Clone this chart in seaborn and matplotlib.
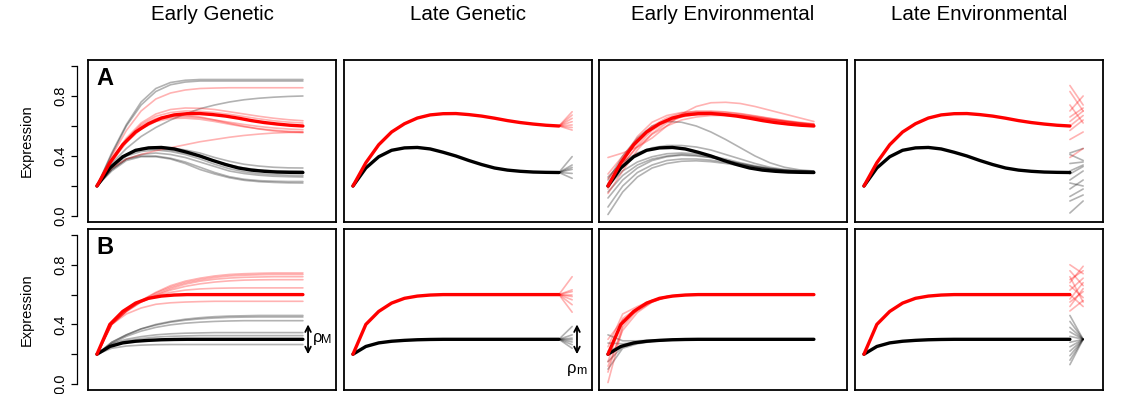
import matplotlib
matplotlib.use('Agg')
import matplotlib.pyplot as plt
import seaborn as sns

sns.set_style('white')
plt.rcParams['font.family'] = ['Liberation Sans', 'DejaVu Sans']
plt.rcParams['text.color'] = 'black'
plt.rcParams['axes.labelcolor'] = 'black'
plt.rcParams['ytick.color'] = 'black'

# time points of the simulated trajectories
t = list(range(15))
# the main model trajectories are stored on their own (coarse) output grid
t_main = [0, 0.875, 1.75, 2.625, 3.5, 4.375, 5.25, 6.125, 7, 7.875, 8.75, 9.625, 10.5, 11.375, 12.25, 13.125, 14]
t_late = [14, 14.9]   # short perturbation tips drawn after the last time point

col_titles = ['Early Genetic', 'Late Genetic', 'Early Environmental', 'Late Environmental']
row_labels = ['A', 'B']

# main trajectories (row A: overshoot, row B: saturating)
a_red = [0.20, 0.355, 0.475, 0.56, 0.615, 0.653, 0.674, 0.682, 0.683, 0.676, 0.666, 0.652, 0.636, 0.623, 0.613, 0.605, 0.60]
a_black = [0.20, 0.32, 0.395, 0.438, 0.454, 0.457, 0.447, 0.425, 0.40, 0.37, 0.343, 0.32, 0.306, 0.298, 0.293, 0.291, 0.29]
b_red = [0.20, 0.40, 0.487, 0.543, 0.575, 0.59, 0.597, 0.60, 0.60, 0.60, 0.60, 0.60, 0.60, 0.60, 0.60, 0.60, 0.60]
b_black = [0.20, 0.252, 0.276, 0.287, 0.293, 0.297, 0.299, 0.30, 0.30, 0.30, 0.30, 0.30, 0.30, 0.30, 0.30, 0.30, 0.30]

# Early genetic, row A
a_eg_red = [
    [0.2, 0.40, 0.57, 0.70, 0.78, 0.82, 0.84, 0.85, 0.853, 0.855, 0.855, 0.855, 0.855, 0.855, 0.855],
    [0.2, 0.38, 0.52, 0.62, 0.68, 0.71, 0.72, 0.718, 0.71, 0.695, 0.68, 0.665, 0.652, 0.642, 0.635],
    [0.2, 0.37, 0.51, 0.61, 0.665, 0.69, 0.70, 0.698, 0.69, 0.678, 0.663, 0.648, 0.635, 0.626, 0.62],
    [0.2, 0.37, 0.50, 0.59, 0.64, 0.66, 0.662, 0.655, 0.64, 0.625, 0.61, 0.597, 0.587, 0.58, 0.575],
    [0.2, 0.36, 0.49, 0.58, 0.63, 0.65, 0.652, 0.645, 0.63, 0.612, 0.595, 0.582, 0.572, 0.565, 0.56],
    [0.2, 0.37, 0.50, 0.60, 0.65, 0.668, 0.67, 0.66, 0.64, 0.618, 0.598, 0.58, 0.567, 0.559, 0.555],
    [0.2, 0.32, 0.38, 0.41, 0.435, 0.455, 0.475, 0.495, 0.51, 0.525, 0.537, 0.546, 0.553, 0.557, 0.56],
]
a_eg_gray = [
    [0.2, 0.42, 0.61, 0.76, 0.85, 0.89, 0.905, 0.91, 0.91, 0.91, 0.91, 0.91, 0.91, 0.91, 0.91],
    [0.2, 0.41, 0.60, 0.74, 0.83, 0.875, 0.893, 0.90, 0.90, 0.90, 0.90, 0.90, 0.90, 0.90, 0.90],
    [0.2, 0.35, 0.45, 0.53, 0.59, 0.64, 0.68, 0.715, 0.74, 0.76, 0.775, 0.785, 0.792, 0.797, 0.80],
    [0.2, 0.33, 0.41, 0.45, 0.46, 0.455, 0.44, 0.42, 0.39, 0.365, 0.345, 0.333, 0.325, 0.321, 0.32],
    [0.2, 0.32, 0.40, 0.43, 0.44, 0.43, 0.41, 0.38, 0.345, 0.315, 0.295, 0.283, 0.276, 0.272, 0.27],
    [0.2, 0.31, 0.38, 0.41, 0.42, 0.41, 0.39, 0.36, 0.33, 0.30, 0.283, 0.272, 0.265, 0.262, 0.26],
    [0.2, 0.31, 0.38, 0.40, 0.40, 0.385, 0.36, 0.325, 0.29, 0.262, 0.245, 0.236, 0.232, 0.23, 0.23],
    [0.2, 0.30, 0.37, 0.395, 0.395, 0.38, 0.35, 0.31, 0.28, 0.255, 0.238, 0.229, 0.224, 0.221, 0.22],
    [0.2, 0.33, 0.41, 0.445, 0.45, 0.44, 0.42, 0.395, 0.365, 0.34, 0.32, 0.308, 0.302, 0.30, 0.30],
]

# Early genetic, row B
b_eg_red = [
    [0.2, 0.40, 0.49, 0.56, 0.615, 0.66, 0.69, 0.71, 0.725, 0.735, 0.74, 0.743, 0.745, 0.745, 0.745],
    [0.2, 0.40, 0.49, 0.56, 0.61, 0.65, 0.68, 0.70, 0.715, 0.725, 0.73, 0.733, 0.735, 0.735, 0.735],
    [0.2, 0.40, 0.49, 0.555, 0.60, 0.64, 0.67, 0.69, 0.703, 0.711, 0.716, 0.718, 0.72, 0.72, 0.72],
    [0.2, 0.40, 0.485, 0.55, 0.595, 0.63, 0.655, 0.672, 0.684, 0.692, 0.697, 0.699, 0.70, 0.70, 0.70],
    [0.2, 0.41, 0.49, 0.55, 0.59, 0.615, 0.63, 0.638, 0.642, 0.644, 0.645, 0.645, 0.645, 0.645, 0.645],
    [0.2, 0.40, 0.47, 0.51, 0.535, 0.545, 0.55, 0.553, 0.555, 0.555, 0.555, 0.555, 0.555, 0.555, 0.555],
]
b_eg_gray = [
    [0.2, 0.28, 0.33, 0.37, 0.40, 0.42, 0.435, 0.445, 0.452, 0.456, 0.458, 0.46, 0.46, 0.46, 0.46],
    [0.2, 0.28, 0.33, 0.37, 0.395, 0.415, 0.428, 0.437, 0.443, 0.447, 0.449, 0.45, 0.45, 0.45, 0.45],
    [0.2, 0.27, 0.32, 0.355, 0.38, 0.397, 0.408, 0.415, 0.42, 0.423, 0.425, 0.425, 0.425, 0.425, 0.425],
    [0.2, 0.27, 0.30, 0.318, 0.33, 0.337, 0.341, 0.343, 0.345, 0.345, 0.345, 0.345, 0.345, 0.345, 0.345],
    [0.2, 0.26, 0.29, 0.305, 0.315, 0.32, 0.323, 0.325, 0.325, 0.325, 0.325, 0.325, 0.325, 0.325, 0.325],
    [0.2, 0.24, 0.255, 0.261, 0.264, 0.265, 0.265, 0.265, 0.265, 0.265, 0.265, 0.265, 0.265, 0.265, 0.265],
]

# Late genetic: end values of the tips leaving the last point
a_lg_red = [0.695, 0.673, 0.651, 0.629, 0.607, 0.59, 0.573]
a_lg_gray = [0.396, 0.34, 0.324, 0.311, 0.284, 0.251]
b_lg_red = [0.72, 0.632, 0.62, 0.6, 0.587, 0.565, 0.532, 0.482]
b_lg_gray = [0.386, 0.33, 0.308, 0.297, 0.282, 0.264, 0.24]

# Early environmental, row A
a_ee_red = [
    [0.39, 0.42, 0.46, 0.52, 0.60, 0.68, 0.73, 0.755, 0.758, 0.75, 0.73, 0.705, 0.68, 0.655, 0.63],
    [0.25, 0.37, 0.49, 0.58, 0.64, 0.675, 0.69, 0.695, 0.69, 0.68, 0.665, 0.65, 0.635, 0.622, 0.612],
    [0.18, 0.34, 0.47, 0.57, 0.63, 0.665, 0.68, 0.685, 0.682, 0.673, 0.66, 0.645, 0.632, 0.62, 0.61],
    [0.15, 0.30, 0.44, 0.55, 0.62, 0.66, 0.675, 0.68, 0.678, 0.67, 0.658, 0.644, 0.63, 0.618, 0.608],
    [0.28, 0.40, 0.51, 0.60, 0.655, 0.685, 0.70, 0.70, 0.694, 0.683, 0.668, 0.652, 0.637, 0.625, 0.615],
    [0.22, 0.35, 0.46, 0.545, 0.60, 0.64, 0.66, 0.67, 0.67, 0.665, 0.655, 0.642, 0.63, 0.62, 0.61],
    [0.20, 0.38, 0.53, 0.625, 0.67, 0.69, 0.695, 0.69, 0.68, 0.668, 0.655, 0.64, 0.628, 0.617, 0.608],
]
a_ee_gray = [
    [0.24, 0.40, 0.52, 0.60, 0.63, 0.625, 0.60, 0.56, 0.51, 0.455, 0.40, 0.355, 0.325, 0.308, 0.30],
    [0.26, 0.36, 0.42, 0.455, 0.47, 0.47, 0.46, 0.44, 0.41, 0.38, 0.35, 0.325, 0.31, 0.302, 0.298],
    [0.20, 0.30, 0.36, 0.395, 0.415, 0.42, 0.415, 0.40, 0.38, 0.355, 0.335, 0.318, 0.306, 0.30, 0.297],
    [0.12, 0.24, 0.32, 0.37, 0.395, 0.405, 0.40, 0.39, 0.37, 0.35, 0.33, 0.315, 0.305, 0.299, 0.296],
    [0.06, 0.20, 0.29, 0.34, 0.37, 0.38, 0.38, 0.372, 0.358, 0.342, 0.327, 0.313, 0.304, 0.298, 0.295],
    [0.01, 0.16, 0.26, 0.32, 0.35, 0.365, 0.368, 0.362, 0.35, 0.336, 0.322, 0.31, 0.302, 0.297, 0.295],
    [0.16, 0.27, 0.34, 0.38, 0.40, 0.41, 0.405, 0.39, 0.37, 0.348, 0.328, 0.313, 0.303, 0.298, 0.296],
]

# Early environmental, row B
b_ee_red = [
    [0.01, 0.38, 0.50, 0.555, 0.585, 0.597, 0.60, 0.60, 0.60, 0.60, 0.60, 0.60, 0.60, 0.60, 0.60],
    [0.08, 0.40, 0.50, 0.556, 0.586, 0.597, 0.60, 0.60, 0.60, 0.60, 0.60, 0.60, 0.60, 0.60, 0.60],
    [0.15, 0.44, 0.51, 0.56, 0.587, 0.598, 0.60, 0.60, 0.60, 0.60, 0.60, 0.60, 0.60, 0.60, 0.60],
    [0.25, 0.47, 0.52, 0.562, 0.588, 0.598, 0.60, 0.60, 0.60, 0.60, 0.60, 0.60, 0.60, 0.60, 0.60],
    [0.30, 0.43, 0.49, 0.55, 0.584, 0.596, 0.60, 0.60, 0.60, 0.60, 0.60, 0.60, 0.60, 0.60, 0.60],
    [0.12, 0.36, 0.48, 0.55, 0.583, 0.596, 0.60, 0.60, 0.60, 0.60, 0.60, 0.60, 0.60, 0.60, 0.60],
]
b_ee_gray = [
    [0.33, 0.29, 0.29, 0.295, 0.298, 0.30, 0.30, 0.30, 0.30, 0.30, 0.30, 0.30, 0.30, 0.30, 0.30],
    [0.275, 0.27, 0.28, 0.29, 0.296, 0.30, 0.30, 0.30, 0.30, 0.30, 0.30, 0.30, 0.30, 0.30, 0.30],
    [0.10, 0.24, 0.27, 0.285, 0.294, 0.298, 0.30, 0.30, 0.30, 0.30, 0.30, 0.30, 0.30, 0.30, 0.30],
    [0.15, 0.25, 0.275, 0.288, 0.295, 0.298, 0.30, 0.30, 0.30, 0.30, 0.30, 0.30, 0.30, 0.30, 0.30],
    [0.22, 0.26, 0.28, 0.29, 0.296, 0.30, 0.30, 0.30, 0.30, 0.30, 0.30, 0.30, 0.30, 0.30, 0.30],
]

# Late environmental: (value at t=14, value at t=14.9) pairs
a_le_red = [(0.87, 0.74), (0.83, 0.70), (0.70, 0.80), (0.74, 0.62), (0.66, 0.72),
            (0.63, 0.70), (0.60, 0.67), (0.57, 0.64), (0.51, 0.56), (0.39, 0.45)]
a_le_gray = [(0.42, 0.45), (0.41, 0.37), (0.35, 0.36), (0.30, 0.34), (0.28, 0.33), (0.24, 0.30),
             (0.22, 0.20), (0.18, 0.24), (0.13, 0.18), (0.10, 0.14), (0.02, 0.10)]
b_le_red = [(0.80, 0.74), (0.76, 0.66), (0.70, 0.76), (0.66, 0.58), (0.63, 0.71), (0.60, 0.52),
            (0.57, 0.68), (0.55, 0.62), (0.52, 0.64), (0.49, 0.56), (0.72, 0.55), (0.68, 0.79)]
b_le_gray = [0.46, 0.42, 0.38, 0.35, 0.32, 0.28, 0.25, 0.22, 0.19, 0.16, 0.13]


def line(ax, xs, ys, color, lw=1.2, alpha=0.3):
    sns.lineplot(x=xs, y=ys, ax=ax, color=color, linewidth=lw, alpha=alpha,
                 estimator=None, sort=False, legend=False, solid_capstyle='round',
                 solid_joinstyle='round')


def mains(ax, red, black):
    line(ax, t_main, black, 'black', lw=2.4, alpha=1)
    line(ax, t_main, red, 'red', lw=2.4, alpha=1)


fig = plt.figure(figsize=(11.35, 3.94), dpi=100)
lefts = [88, 344, 599, 855]
tops = [60, 229]
heights = [162, 161]

axes = []
for r in range(2):
    row = []
    for c in range(4):
        ax = fig.add_axes([lefts[c] / 1135, (394 - tops[r] - heights[r]) / 394, 248 / 1135, heights[r] / 394])
        row.append(ax)
    axes.append(row)

# row A
ax = axes[0][0]
for v in a_eg_gray:
    line(ax, t, v, 'black')
for v in a_eg_red:
    line(ax, t, v, 'red')
mains(ax, a_red, a_black)

ax = axes[0][1]
for v in a_lg_gray:
    line(ax, t_late, [a_black[-1], v], 'black')
for v in a_lg_red:
    line(ax, t_late, [a_red[-1], v], 'red')
mains(ax, a_red, a_black)

ax = axes[0][2]
for v in a_ee_gray:
    line(ax, t, v, 'black')
for v in a_ee_red:
    line(ax, t, v, 'red')
mains(ax, a_red, a_black)

ax = axes[0][3]
for p in a_le_gray:
    line(ax, t_late, list(p), 'black')
for p in a_le_red:
    line(ax, t_late, list(p), 'red')
mains(ax, a_red, a_black)

# row B
ax = axes[1][0]
for v in b_eg_gray:
    line(ax, t, v, 'black')
for v in b_eg_red:
    line(ax, t, v, 'red')
mains(ax, b_red, b_black)
ax.annotate('', xy=(14.35, 0.2), xytext=(14.35, 0.4),
            arrowprops=dict(arrowstyle='<->', color='black', lw=1.3, mutation_scale=10,
                            shrinkA=0, shrinkB=0))
ax.text(14.65, 0.315, '\u03c1', fontsize=12, va='center', ha='left')
ax.text(15.25, 0.295, 'M', fontsize=9, va='center', ha='left')

ax = axes[1][1]
for v in b_lg_gray:
    line(ax, t_late, [b_black[-1], v], 'black')
for v in b_lg_red:
    line(ax, t_late, [b_red[-1], v], 'red')
mains(ax, b_red, b_black)
ax.annotate('', xy=(15.23, 0.2), xytext=(15.23, 0.4),
            arrowprops=dict(arrowstyle='<->', color='black', lw=1.3, mutation_scale=10,
                            shrinkA=0, shrinkB=0))
ax.text(14.55, 0.105, '\u03c1', fontsize=12, va='center', ha='left')
ax.text(15.15, 0.085, 'm', fontsize=9, va='center', ha='left')

ax = axes[1][2]
for v in b_ee_gray:
    line(ax, t, v, 'black')
for v in b_ee_red:
    line(ax, t, v, 'red')
mains(ax, b_red, b_black)

ax = axes[1][3]
for v in b_le_gray:
    line(ax, t_late, [v, b_black[-1]], 'black')
for p in b_le_red:
    line(ax, t_late, list(p), 'red')
mains(ax, b_red, b_black)

for r in range(2):
    for c in range(4):
        ax = axes[r][c]
        ax.set_xlim(-0.61, 16.25)
        ax.set_ylim(-0.04, 1.04)
        ax.set_xticks([])
        ax.set_xlabel('')
        for s in ax.spines.values():
            s.set_visible(True)
            s.set_color('black')
            s.set_linewidth(1.3)
        if c == 0:
            # R style detached y axis plus the box edge
            ax.spines['left'].set_position(('outward', 8))
            ax.spines['left'].set_bounds(0, 1)
            ax.spines['left'].set_linewidth(0.9)
            ax.plot([0, 0], [0, 1], transform=ax.transAxes, color='black', lw=1.3, clip_on=False)
            ax.set_yticks([0, 0.2, 0.4, 0.6, 0.8, 1.0])
            ax.set_yticklabels(['0.0', '', '0.4', '', '0.8', ''], rotation=90, va='center')
            ax.tick_params(axis='y', left=True, length=4, width=0.9, pad=3, labelsize=10.5,
                           colors='black')
            ax.set_ylabel('Expression', fontsize=10.5, labelpad=14, color='black')
            ax.text(0.032, 0.955, row_labels[r], transform=ax.transAxes, fontsize=17,
                    fontweight='bold', va='top', ha='left', color='black')
        else:
            ax.set_yticks([])
            ax.set_ylabel('')

for c in range(4):
    fig.text((lefts[c] + 124) / 1135, 1 - 15 / 394, col_titles[c], ha='center', va='center',
             fontsize=14.8, color='black')

fig.savefig('out.png', dpi=100)
